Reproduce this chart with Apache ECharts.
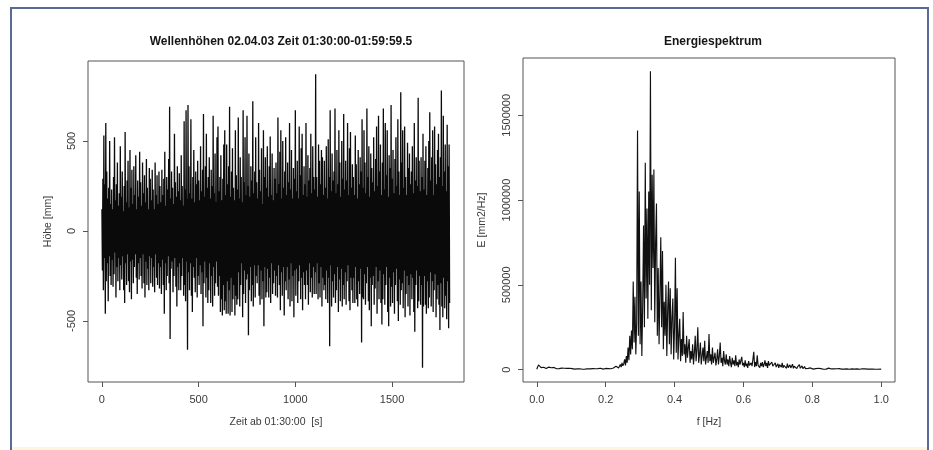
<!DOCTYPE html>
<html><head><meta charset="utf-8">
<script src="https://cdn.jsdelivr.net/npm/echarts@6/dist/echarts.min.js"></script>
<style>html,body{margin:0;padding:0;background:#fff}#c{width:933px;height:450px}</style>
</head><body><div id="c"></div>
<script>
// ---- Wellenhöhen: one crest and one trough read per 5 s window ----
const waveStepSeconds = 5;
const crests = [
 120, 290, 530, 260, 600, 330, 180, 240, 500, 150,
 230, 120, 300, 520, 170, 260, 380, 140, 210, 470,
 190, 330, 110, 250, 550, 160, 280, 390, 130, 450,
 240, 340, 150, 360, 200, 420, 120, 280, 190, 440,
 270, 140, 380, 210, 310, 160, 400, 240, 120, 350,
 290, 170, 340, 230, 120, 380, 200, 310, 150, 330,
 250, 160, 340, 200, 290, 440, 140, 300, 230, 400,
 690, 180, 330, 240, 150, 540, 270, 190, 360, 220,
 320, 170, 420, 250, 140, 610, 230, 670, 180, 700,
 360, 210, 620, 180, 300, 450, 160, 330, 260, 390,
 280, 170, 470, 220, 340, 650, 190, 360, 540, 240,
 300, 410, 180, 340, 250, 640, 210, 430, 160, 520,
 580, 220, 300, 420, 170, 290, 480, 560, 200, 480,
 260, 360, 690, 190, 330, 460, 240, 170, 560, 310,
 230, 630, 180, 410, 300, 160, 670, 270, 520, 200,
 640, 250, 430, 190, 360, 280, 720, 210, 330, 520,
 270, 180, 600, 340, 220, 460, 150, 560, 300, 410,
 240, 470, 190, 360, 525, 200, 430, 170, 350, 290,
 380, 210, 630, 260, 440, 560, 180, 500, 240, 330,
 520, 200, 380, 270, 600, 230, 450, 180, 350, 290,
 670, 220, 390, 180, 580, 310, 460, 540, 200, 360,
 260, 600, 190, 420, 280, 350, 540, 210, 470, 300,
 230, 870, 300, 190, 480, 390, 260, 450, 410, 200,
 390, 240, 470, 180, 510, 300, 670, 220, 430, 280,
 330, 680, 210, 450, 260, 560, 380, 190, 500, 290,
 650, 230, 390, 280, 600, 200, 460, 550, 240, 370,
 300, 200, 530, 370, 180, 450, 260, 410, 330, 620,
 240, 560, 380, 210, 680, 300, 470, 190, 430, 350,
 270, 520, 220, 400, 580, 250, 640, 330, 480, 200,
 380, 680, 230, 600, 310, 560, 190, 420, 350, 700,
 290, 450, 210, 400, 520, 250, 620, 330, 200, 770,
 380, 560, 240, 580, 300, 200, 490, 350, 430, 260,
 330, 470, 210, 600, 280, 410, 250, 740, 390, 220,
 410, 300, 540, 230, 390, 470, 200, 350, 500, 660,
 280, 410, 560, 200, 580, 370, 260, 450, 540, 300,
 410, 780, 250, 640, 330, 480, 220, 590, 360, 480
];
const troughs = [
 -220, -330, -150, -460, -280, -180, -390, -140, -250, -300,
 -160, -310, -240, -120, -370, -200, -280, -150, -330, -190,
 -270, -140, -330, -400, -180, -300, -130, -280, -340, -170,
 -380, -160, -290, -200, -130, -260, -350, -180, -270, -150,
 -250, -320, -130, -290, -370, -170, -300, -210, -330, -140,
 -290, -150, -310, -200, -340, -130, -260, -300, -180, -320,
 -200, -350, -160, -300, -460, -180, -330, -250, -140, -290,
 -600, -210, -170, -340, -250, -150, -310, -420, -200, -330,
 -180, -330, -250, -150, -360, -300, -390, -170, -660, -230,
 -330, -180, -360, -450, -200, -260, -340, -150, -370, -250,
 -300, -190, -350, -230, -530, -290, -170, -370, -260, -400,
 -330, -180, -400, -250, -420, -200, -360, -290, -170, -310,
 -360, -250, -450, -380, -470, -300, -440, -390, -460, -280,
 -460, -330, -470, -260, -450, -380, -300, -470, -360, -410,
 -380, -230, -420, -300, -180, -480, -350, -220, -400, -270,
 -240, -580, -330, -200, -390, -300, -420, -190, -370, -250,
 -290, -190, -360, -410, -220, -380, -280, -530, -200, -370,
 -340, -210, -370, -260, -400, -180, -350, -290, -220, -360,
 -250, -370, -190, -300, -440, -230, -360, -200, -470, -280,
 -330, -200, -380, -270, -420, -180, -390, -250, -480, -220,
 -360, -210, -400, -280, -190, -380, -260, -440, -230, -300,
 -380, -220, -300, -410, -180, -340, -260, -370, -200, -350,
 -230, -350, -180, -380, -290, -370, -200, -420, -260, -330,
 -300, -380, -220, -400, -260, -640, -190, -420, -280, -370,
 -240, -400, -330, -200, -450, -270, -390, -210, -420, -300,
 -380, -230, -410, -280, -190, -390, -440, -260, -330, -400,
 -260, -400, -200, -380, -420, -280, -350, -210, -620, -370,
 -380, -240, -410, -290, -200, -390, -440, -260, -530, -300,
 -250, -410, -320, -200, -460, -280, -380, -220, -400, -520,
 -380, -240, -410, -300, -200, -450, -530, -260, -420, -310,
 -400, -230, -460, -300, -210, -390, -500, -270, -410, -330,
 -290, -430, -220, -480, -350, -250, -420, -300, -470, -240,
 -380, -260, -450, -560, -300, -220, -430, -390, -250, -410,
 -300, -760, -420, -250, -410, -460, -280, -430, -370, -230,
 -420, -280, -450, -330, -240, -480, -380, -300, -410, -550,
 -290, -420, -480, -260, -430, -360, -490, -280, -540, -400
];
const waveTicksX = [0, 500, 1000, 1500];
const waveTicksY = [-500, 0, 500];

// ---- Energiespektrum: one value per 0.0025 Hz ----
const spectrumStepHz = 0.0025;
const energy = [
 2000, 15000, 28000, 22000, 30000, 12000, 20000, 9000, 14000, 8000,
 12000, 6000, 10000, 7000, 15000, 9000, 5000, 11000, 8000, 6000,
 13000, 7000, 9000, 5000, 10000, 8000, 6000, 12000, 7000, 9000,
 14000, 6000, 8000, 5000, 10000, 7000, 9000, 6000, 8000, 11000,
 5000, 6000, 4000, 7000, 3000, 5000, 8000, 4000, 6000, 3000,
 5000, 7000, 4000, 2000, 5000, 6000, 3000, 4000, 7000, 5000,
 3000, 6000, 4000, 5000, 2000, 6000, 4000, 3000, 5000, 7000,
 4000, 6000, 3000, 5000, 8000, 4000, 6000, 3000, 5000, 4000,
 7000, 5000, 3000, 6000, 4000, 9000, 5000, 7000, 6000, 10000,
 15000, 8000, 20000, 12000, 25000, 10000, 18000, 30000, 15000, 40000,
 22000, 35000, 60000, 25000, 80000, 40000, 130000, 55000, 200000, 90000,
 230000, 120000, 520000, 160000, 430000, 90000, 280000, 1410000, 200000, 1050000,
 150000, 520000, 80000, 380000, 850000, 250000, 1220000, 420000, 950000, 300000,
 1050000, 500000, 1760000, 350000, 1150000, 600000, 1180000, 280000, 750000, 980000,
 200000, 600000, 150000, 450000, 780000, 250000, 700000, 120000, 400000, 200000,
 500000, 80000, 350000, 520000, 150000, 480000, 90000, 300000, 420000, 60000,
 250000, 660000, 100000, 480000, 60000, 200000, 300000, 50000, 180000, 80000,
 340000, 90000, 150000, 40000, 200000, 70000, 130000, 180000, 40000, 110000,
 60000, 150000, 30000, 100000, 200000, 50000, 120000, 250000, 40000, 90000,
 160000, 30000, 80000, 130000, 50000, 170000, 30000, 70000, 110000, 40000,
 210000, 50000, 90000, 30000, 130000, 40000, 70000, 100000, 25000, 60000,
 120000, 30000, 80000, 160000, 40000, 70000, 20000, 110000, 50000, 30000,
 90000, 30000, 60000, 20000, 80000, 40000, 15000, 70000, 30000, 55000,
 20000, 85000, 25000, 45000, 15000, 60000, 30000, 20000, 75000, 25000,
 40000, 15000, 55000, 20000, 35000, 10000, 50000, 25000, 15000, 40000,
 20000, 30000, 105000, 15000, 45000, 20000, 85000, 25000, 35000, 12000,
 40000, 20000, 45000, 15000, 30000, 55000, 20000, 40000, 10000, 50000,
 25000, 35000, 15000, 45000, 20000, 30000, 10000, 40000, 15000, 25000,
 35000, 10000, 30000, 20000, 15000, 40000, 10000, 25000, 18000, 30000,
 8000, 35000, 12000, 20000, 28000, 10000, 15000, 32000, 8000, 20000,
 12000, 25000, 6000, 18000, 10000, 30000, 8000, 15000, 22000, 6000,
 12000, 18000, 5000, 9000, 4000, 7000, 3000, 6000, 10000, 4000,
 5000, 3000, 7000, 4000, 6000, 2000, 5000, 8000, 3000, 4000,
 6000, 3000, 5000, 2000, 4000, 7000, 3000, 5000, 4000, 9000,
 3000, 5000, 4000, 6000, 2000, 4000, 3000, 7000, 5000, 3000,
 4000, 6000, 2000, 5000, 3000, 4000, 8000, 3000, 5000, 2000,
 4000, 3000, 6000, 2000, 5000, 3000, 4000, 2000, 6000, 3000,
 5000, 2000, 4000, 3000, 7000, 2000, 4000, 3000, 5000, 2000,
 3000, 4000, 2000, 5000, 3000, 2000, 4000, 3000, 2000, 4000,
 3000, 2000, 4000, 2000, 3000, 5000, 2000, 3000, 2000, 3000,
 2000
];
const specTicksX = [0, 0.2, 0.4, 0.6, 0.8, 1.0];
const specTicksY = [0, 500000, 1000000, 1500000];

// ---- build series data ----
const waveData = [];
crests.forEach((c, i) => {
  waveData.push([i * waveStepSeconds, c]);
  waveData.push([i * waveStepSeconds + waveStepSeconds / 2, troughs[i]]);
});
const specData = energy.map((v, i) => [Math.round(i * spectrumStepHz * 10000) / 10000, v]);

const FONT = '"Liberation Sans", Arial, sans-serif';
const txt = '#3a3a3a';
const tickStyle = { show: true, length: 5, lineStyle: { color: '#555', width: 1 } };
const hiddenLine = { show: false, onZero: false };

const chart = echarts.init(document.getElementById('c'), null, { renderer: 'canvas' });
chart.setOption({
  animation: false,
  backgroundColor: '#ffffff',
  textStyle: { fontFamily: FONT },
  graphic: [
    { type: 'rect', shape: { x: 11, y: 8, width: 917, height: 470 },
      style: { fill: 'none', stroke: '#5a6a98', lineWidth: 2 }, z: 100 },
    { type: 'rect', shape: { x: 12, y: 447, width: 915, height: 3 },
      style: { fill: '#fbf6dc' }, z: 99 }
  ],
  title: [
    { text: 'Wellenhöhen 02.04.03 Zeit 01:30:00-01:59:59.5', left: 276, top: 31, textAlign: 'center',
      textStyle: { fontFamily: FONT, fontSize: 12, fontWeight: 'bold', color: '#151515' } },
    { text: 'Energiespektrum', left: 708, top: 31, textAlign: 'center',
      textStyle: { fontFamily: FONT, fontSize: 12, fontWeight: 'bold', color: '#151515' } }
  ],
  grid: [
    { left: 88, top: 61, width: 376, height: 321, show: true, borderColor: '#555', borderWidth: 1, backgroundColor: 'transparent' },
    { left: 523, top: 58, width: 372, height: 324, show: true, borderColor: '#555', borderWidth: 1, backgroundColor: 'transparent' }
  ],
  xAxis: [
    {
      type: 'value', gridIndex: 0, min: -72, max: 1872, position: 'bottom',
      axisLine: hiddenLine, splitLine: { show: false },
      name: 'Zeit ab 01:30:00  [s]', nameLocation: 'middle', nameGap: 35,
      nameTextStyle: { color: txt, fontSize: 10.5, fontFamily: FONT },
      axisTick: Object.assign({}, tickStyle, { customValues: waveTicksX }),
      axisLabel: { customValues: waveTicksX, color: txt, fontSize: 11, margin: 12, fontFamily: FONT,
        formatter: v => String(v) }
    },
    {
      type: 'value', gridIndex: 1, min: -0.04, max: 1.04, position: 'bottom',
      axisLine: hiddenLine, splitLine: { show: false },
      name: 'f [Hz]', nameLocation: 'middle', nameGap: 35,
      nameTextStyle: { color: txt, fontSize: 10.5, fontFamily: FONT },
      axisTick: Object.assign({}, tickStyle, { customValues: specTicksX }),
      axisLabel: { customValues: specTicksX, color: txt, fontSize: 11, margin: 12, fontFamily: FONT,
        formatter: v => v.toFixed(1) }
    }
  ],
  yAxis: [
    {
      type: 'value', gridIndex: 0, min: -839, max: 944, position: 'left',
      axisLine: hiddenLine, splitLine: { show: false },
      name: 'Höhe [mm]', nameLocation: 'middle', nameGap: 34,
      nameTextStyle: { color: txt, fontSize: 10.5, fontFamily: FONT },
      axisTick: Object.assign({}, tickStyle, { customValues: waveTicksY }),
      axisLabel: { customValues: waveTicksY, color: txt, fontSize: 11, margin: 11, rotate: 90, fontFamily: FONT,
        formatter: v => String(v) }
    },
    {
      type: 'value', gridIndex: 1, min: -73000, max: 1838000, position: 'left',
      axisLine: hiddenLine, splitLine: { show: false },
      name: 'E [mm2/Hz]', nameLocation: 'middle', nameGap: 35,
      nameTextStyle: { color: txt, fontSize: 10.5, fontFamily: FONT },
      axisTick: Object.assign({}, tickStyle, { customValues: specTicksY }),
      axisLabel: { customValues: specTicksY, color: txt, fontSize: 11, margin: 11, rotate: 90, fontFamily: FONT,
        formatter: v => String(v) }
    }
  ],
  series: [
    { type: 'line', xAxisIndex: 0, yAxisIndex: 0, data: waveData, showSymbol: false, sampling: null,
      lineStyle: { color: '#0a0a0a', width: 1.3 }, silent: true },
    { type: 'line', xAxisIndex: 1, yAxisIndex: 1, data: specData, showSymbol: false, sampling: null,
      lineStyle: { color: '#111', width: 1.15 }, silent: true }
  ]
});
</script>
</body></html>
